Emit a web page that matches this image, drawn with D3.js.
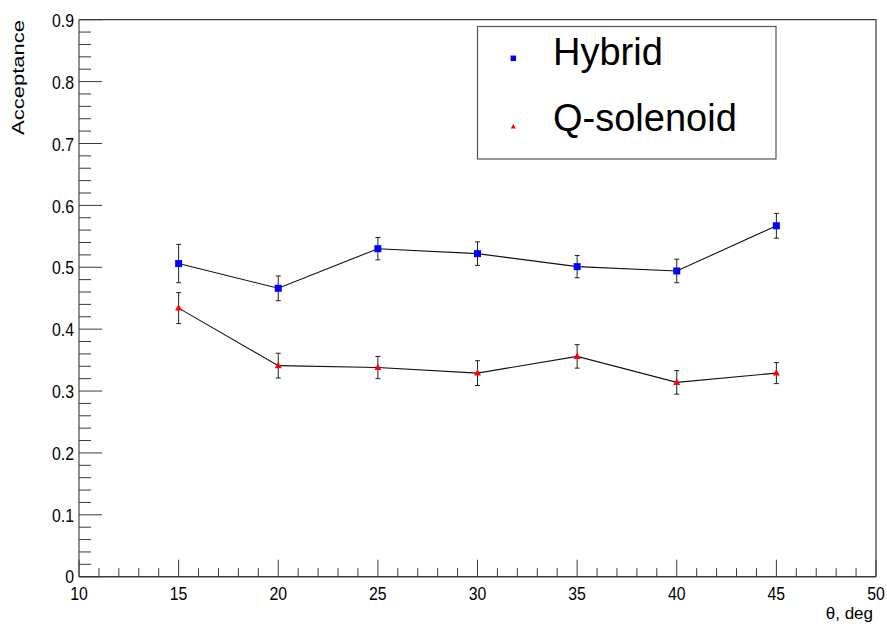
<!DOCTYPE html>
<html>
<head>
<meta charset="utf-8">
<script src="https://cdn.jsdelivr.net/npm/d3@7"></script>
<style>
  html, body { margin: 0; padding: 0; background: #fff; }
  svg { display: block; font-family: "Liberation Sans", Arial, Helvetica, sans-serif; }
</style>
</head>
<body>
<svg id="chart" width="887" height="626"></svg>
<script>
// Acceptance vs polar angle for two magnet configurations
const angles = [15, 20, 25, 30, 35, 40, 45];
const hybrid = [0.506, 0.466, 0.530, 0.522, 0.501, 0.494, 0.567];
const hybridErr = [0.031, 0.020, 0.018, 0.019, 0.018, 0.019, 0.020];
const qsolenoid = [0.434, 0.341, 0.338, 0.329, 0.356, 0.314, 0.329];
const qsolenoidErr = [0.025, 0.020, 0.018, 0.020, 0.019, 0.019, 0.017];
const xTicks = [10, 15, 20, 25, 30, 35, 40, 45, 50];
const yTicks = [0, 0.1, 0.2, 0.3, 0.4, 0.5, 0.6, 0.7, 0.8, 0.9];
const seriesNames = ["Hybrid", "Q-solenoid"];

const svg = d3.select("#chart");
const frame = { left: 79, right: 876, top: 19.7, bottom: 576.7 };

const x = d3.scaleLinear().domain([10, 50]).range([frame.left, frame.right]);
const y = d3.scaleLinear().domain([0, 0.9]).range([frame.bottom, frame.top]);

const axisColor = "#3a3a3a";

// frame: top and right edges
svg.append("path")
  .attr("d", `M${frame.left},${frame.top}H${frame.right}V${frame.bottom}`)
  .attr("fill", "none").attr("stroke", axisColor).attr("stroke-width", 1.2);

// y axis: major ticks every 0.1, minor every 0.02, drawn inward
const yAxis = svg.append("g").attr("transform", `translate(${frame.left},0)`);
yAxis.append("line").attr("x1", 0).attr("x2", 0)
  .attr("y1", frame.top).attr("y2", frame.bottom)
  .attr("stroke", "#777").attr("stroke-width", 1.6);
const yMinor = d3.range(0, 0.9001, 0.02).map(v => +v.toFixed(2));
yAxis.selectAll("line.minor").data(yMinor).join("line").attr("class", "minor")
  .attr("x1", 0).attr("x2", d => (Math.round(d * 100) % 10 === 0) ? 23 : 12)
  .attr("y1", d => y(d)).attr("y2", d => y(d))
  .attr("stroke", axisColor).attr("stroke-width", 1);
// tick labels: slightly condensed glyphs
yAxis.selectAll("text").data(yTicks).join("text")
  .attr("transform", d => `translate(-5,${y(d) + (d === 0 ? 6.5 : 7.2)}) scale(0.88,1)`)
  .attr("text-anchor", "end")
  .attr("font-size", 18).attr("fill", "#000")
  .text(d => d === 0 ? "0" : d3.format(".1f")(d));

// x axis: major ticks every 5, minor every 1
const xAxis = svg.append("g").attr("transform", `translate(0,${frame.bottom})`);
xAxis.append("line").attr("x1", frame.left).attr("x2", frame.right)
  .attr("y1", 0).attr("y2", 0).attr("stroke", axisColor).attr("stroke-width", 1.4);
const xMinor = d3.range(10, 50.001, 1);
xAxis.selectAll("line.minor").data(xMinor).join("line").attr("class", "minor")
  .attr("x1", d => x(d)).attr("x2", d => x(d))
  .attr("y1", 0).attr("y2", d => d % 5 === 0 ? -17 : -8.5)
  .attr("stroke", axisColor).attr("stroke-width", 1);
xAxis.selectAll("text").data(xTicks).join("text")
  .attr("transform", d => `translate(${x(d)},23.5) scale(0.88,1)`)
  .attr("text-anchor", "middle")
  .attr("font-size", 18).attr("fill", "#000")
  .text(d => d);

// axis titles
svg.append("text")
  .attr("x", 873).attr("y", 619)
  .attr("text-anchor", "end").attr("font-size", 17)
  .text("\u03b8, deg");
svg.append("text")
  .attr("transform", "translate(24,20) rotate(-90)")
  .attr("text-anchor", "end").attr("font-size", 16)
  .attr("textLength", 115).attr("lengthAdjust", "spacingAndGlyphs")
  .text("Acceptance");

// data series
const series = [
  { name: seriesNames[0], values: hybrid, errs: hybridErr, color: "#0000ff", shape: "square" },
  { name: seriesNames[1], values: qsolenoid, errs: qsolenoidErr, color: "#ff0000", shape: "triangle" }
];

function marker(g, shape, color, size) {
  if (shape === "square") {
    g.append("rect").attr("x", -size / 2).attr("y", -size / 2)
      .attr("width", size).attr("height", size).attr("fill", color);
  } else {
    const h = size * 0.9;
    g.append("path")
      .attr("d", `M0,${-h * 0.6}L${size / 2},${h * 0.4}L${-size / 2},${h * 0.4}Z`)
      .attr("fill", color);
  }
}

const line = d3.line().x(d => x(d[0])).y(d => y(d[1]));

series.forEach(s => {
  const pts = angles.map((a, i) => [a, s.values[i], s.errs[i]]);
  const g = svg.append("g");
  g.append("path").datum(pts).attr("d", line)
    .attr("fill", "none").attr("stroke", "#111").attr("stroke-width", 1.1);
  // error bars with short caps
  const eb = g.selectAll("g.err").data(pts).join("g").attr("class", "err");
  eb.append("line")
    .attr("x1", d => x(d[0])).attr("x2", d => x(d[0]))
    .attr("y1", d => y(d[1] + d[2])).attr("y2", d => y(d[1] - d[2]))
    .attr("stroke", "#222").attr("stroke-width", 1);
  [1, -1].forEach(sign => {
    eb.append("line")
      .attr("x1", d => x(d[0]) - 2.5).attr("x2", d => x(d[0]) + 2.5)
      .attr("y1", d => y(d[1] + sign * d[2])).attr("y2", d => y(d[1] + sign * d[2]))
      .attr("stroke", "#222").attr("stroke-width", 1);
  });
  pts.forEach(d => {
    const m = g.append("g").attr("transform", `translate(${x(d[0])},${y(d[1])})`);
    marker(m, s.shape, s.color, 7);
  });
});

// legend
const legend = svg.append("g");
legend.append("rect")
  .attr("x", 477.5).attr("y", 26.5).attr("width", 298.5).attr("height", 132.5)
  .attr("fill", "#fff").attr("stroke", "#555").attr("stroke-width", 1.2);
const legendRows = [
  { s: series[0], my: 58.3, ty: 65 },
  { s: series[1], my: 126.7, ty: 131 }
];
legendRows.forEach(r => {
  const m = legend.append("g").attr("transform", `translate(513.3,${r.my})`);
  marker(m, r.s.shape, r.s.color, r.s.shape === "square" ? 5.5 : 5);
  legend.append("text").attr("x", 553).attr("y", r.ty)
    .attr("font-size", 38).attr("fill", "#000").text(r.s.name);
});
</script>
</body>
</html>
